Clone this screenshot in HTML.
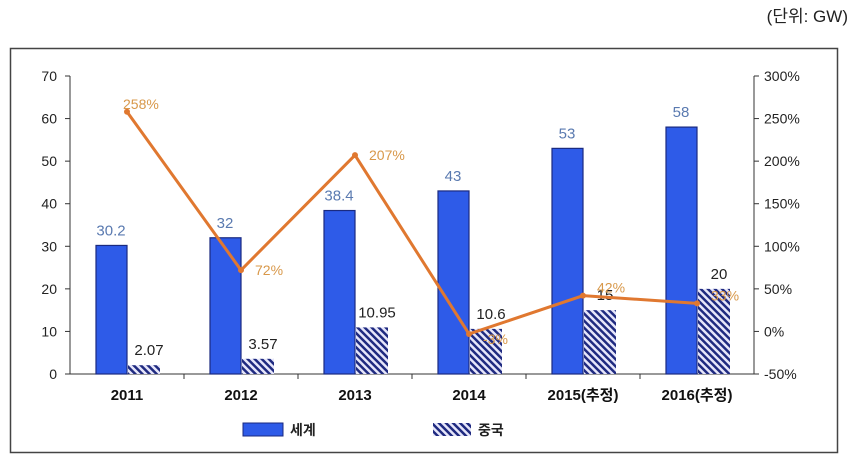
<!DOCTYPE html>
<html><head><meta charset="utf-8"><style>
body{margin:0;background:#fff;width:862px;height:465px;overflow:hidden}
svg text{font-family:"Liberation Sans","Noto Sans CJK KR",sans-serif}
</style></head><body>
<svg width="862" height="465" xmlns="http://www.w3.org/2000/svg">
<defs>
<pattern id="hatch" width="5" height="5" patternUnits="userSpaceOnUse" patternTransform="rotate(-45)">
<rect width="5" height="5" fill="#e6e6fa"/><rect width="2.5" height="5" fill="#1f2a80"/>
</pattern>
</defs>
<text x="848" y="22" text-anchor="end" font-size="17" fill="#222">(단위: GW)</text>
<rect x="10.5" y="48.5" width="827" height="404" fill="#fff" stroke="#444" stroke-width="1.5"/>
<g id="axes"></g>
<g id="bars"></g>
<g id="line"></g>
<g>
<rect x="243" y="423" width="40" height="13" fill="#2e5be8" stroke="#1a2a80"/>
<text x="290" y="435" font-size="14" font-weight="bold" fill="#222">세계</text>
<rect x="433" y="423" width="38" height="13" fill="url(#hatch)"/>
<text x="478" y="435" font-size="14" font-weight="bold" fill="#222">중국</text>
</g>
</svg>
<script>
const categories=["2011","2012","2013","2014","2015(추정)","2016(추정)"];
const world=[30.2,32,38.4,43,53,58];
const worldLabels=["30.2","32","38.4","43","53","58"];
const china=[2.07,3.57,10.95,10.6,15,20];
const chinaLabels=["2.07","3.57","10.95","10.6","15","20"];
const growth=[258,72,207,-3,42,33];
const growthLabels=["258%","72%","207%","-3%","42%","33%"];
const leftTicks=[0,10,20,30,40,50,60,70];
const rightTicks=[-50,0,50,100,150,200,250,300];

const NS="http://www.w3.org/2000/svg";
const X0=70,X1=754,Y0=374,Y1=76;
const cw=(X1-X0)/categories.length;
const yL=v=>Y0-(v-0)/70*(Y0-Y1);
const yR=v=>Y0-(v+50)/350*(Y0-Y1);
const xc=i=>X0+cw*(i+0.5);
function mk(tag,attrs,parent,txt){const e=document.createElementNS(NS,tag);for(const k in attrs)e.setAttribute(k,attrs[k]);if(txt!==undefined)e.textContent=txt;parent.appendChild(e);return e;}
const axes=document.getElementById('axes'),bars=document.getElementById('bars'),line=document.getElementById('line');

let e=mk('line',{x1:X0,y1:Y1,x2:X0,y2:Y0,stroke:'#333'},axes);


e=mk('line',{x1:X1,y1:Y1,x2:X1,y2:Y0,stroke:'#333'},axes);


e=mk('line',{x1:X0,y1:Y0,x2:X1,y2:Y0,stroke:'#333'},axes);


leftTicks.forEach(t=>{
  mk('line',{x1:X0-5,y1:yL(t),x2:X0,y2:yL(t),stroke:'#333'},axes);
  e=mk('text',{x:X0-13,y:yL(t)+5,'text-anchor':'end','font-size':14,fill:'#222'},axes,String(t));
  
  
});
rightTicks.forEach(t=>{
  mk('line',{x1:X1,y1:yR(t),x2:X1+5,y2:yR(t),stroke:'#333'},axes);
  e=mk('text',{x:X1+10,y:yR(t)+5,'font-size':14,fill:'#222'},axes,t+'%');
  
  
});
for(let i=1;i<categories.length;i++){mk('line',{x1:X0+cw*i,y1:Y0,x2:X0+cw*i,y2:Y0+5,stroke:'#333'},axes);}
categories.forEach((c,i)=>{
  e=mk('text',{x:xc(i),y:Y0+26,'text-anchor':'middle','font-size':15,'font-weight':'bold',fill:'#111'},axes,c);
  
  
});
world.forEach((v,i)=>{
  e=mk('rect',{x:xc(i)-31,y:yL(v),width:31,height:Y0-yL(v),fill:'#2e5be8',stroke:'#1a2a80','stroke-width':1.2},bars);
  
  
  e=mk('text',{x:xc(i)-16,y:yL(v)-10,'text-anchor':'middle','font-size':15,fill:'#5a7ab0','font-family':'Liberation Mono, monospace'},bars,worldLabels[i]);
  
  
});
china.forEach((v,i)=>{
  e=mk('rect',{x:xc(i)+1,y:yL(v),width:32,height:Y0-yL(v),fill:'url(#hatch)'},bars);
  
  
  e=mk('text',{x:xc(i)+22,y:yL(v)-10,'text-anchor':'middle','font-size':15,fill:'#222','font-family':'Liberation Mono, monospace'},bars,chinaLabels[i]);
  
  
});
const pts=growth.map((g,i)=>xc(i)+','+yR(g)).join(' ');
e=mk('polyline',{points:pts,fill:'none',stroke:'#e07830','stroke-width':3},line);


growth.forEach((g,i)=>{
  e=mk('circle',{cx:xc(i),cy:yR(g),r:3,fill:'#e07830'},line);
  
  
  const dx=i===0?-4:14, dy=i===0?-8:(i===1?0:(i===2?0:(i===3?5:-8)));
  e=mk('text',{x:xc(i)+dx,y:yR(g)+dy+5,'font-size':14,fill:'#d8984a'},line,growthLabels[i]);
  
  
});
</script>
</body></html>
